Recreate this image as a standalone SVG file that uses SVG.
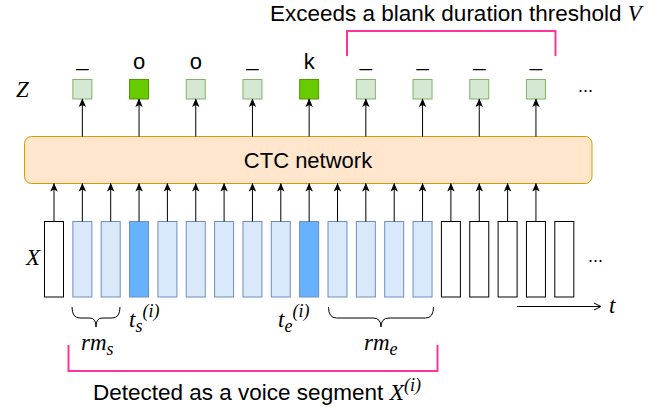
<svg xmlns="http://www.w3.org/2000/svg" width="665" height="410" viewBox="0 0 665 410">
<style>
.t{font-family:"Liberation Sans",Arial,sans-serif;fill:#000}
.m{font-family:"Liberation Serif","Times New Roman",serif;font-style:italic;fill:#000}
.zl{fill:#d5e8d4;stroke:#82b366;stroke-width:1}
.zd{fill:#66cc00;stroke:#4d9900;stroke-width:1}
.xl{fill:#dae8fc;stroke:#6c8ebf;stroke-width:1}
.xd{fill:#66b2ff;stroke:#6c8ebf;stroke-width:1}
.xw{fill:#fff;stroke:#000;stroke-width:1}
.ar{stroke:#000;stroke-width:1;fill:none;marker-end:url(#ah)}
.pk{stroke:#ff3399;stroke-width:2;fill:none}
.br{stroke:#000;stroke-width:1;fill:none}
</style>
<defs>
<marker id="ah" markerUnits="userSpaceOnUse" markerWidth="10" markerHeight="10" viewBox="0 0 10 10" refX="9" refY="5" orient="auto">
<path d="M1,1.3 L9.5,5 L1,8.7 L3,5 Z" fill="#000"/>
</marker>
<marker id="oh" markerUnits="userSpaceOnUse" markerWidth="10" markerHeight="10" viewBox="0 0 10 10" refX="9" refY="5" orient="auto">
<path d="M2,1.5 L9,5 L2,8.5" fill="none" stroke="#000" stroke-width="1"/>
</marker>
</defs>
<g id="title"><text class="t" x="270" y="21" font-size="22.5">Exceeds a blank duration threshold <tspan class="m" font-family="Liberation Serif, serif" font-style="italic">V</tspan></text></g>
<g id="labelZ"><text class="m" x="16" y="97" font-size="23">Z</text></g>
<g id="labelX"><text class="m" x="26" y="265" font-size="23">X</text></g>
<g id="ctc"><rect x="24.5" y="136.5" width="567.5" height="47" rx="7" fill="#ffe6cc" stroke="#d79b00"/><text class="t" x="308" y="167.5" font-size="22" text-anchor="middle">CTC network</text></g>
<g id="Z">
<g id="z1"><rect class="zl" x="72.85" y="79.5" width="19" height="19.5"/><text class="t" x="82.35" y="66" font-size="22" text-anchor="middle">_</text></g>
<g id="z3"><rect class="zd" x="129.55" y="79.5" width="19" height="19.5"/><text class="t" x="139.05" y="69" font-size="22" text-anchor="middle">o</text></g>
<g id="z5"><rect class="zl" x="186.25" y="79.5" width="19" height="19.5"/><text class="t" x="195.75" y="69" font-size="22" text-anchor="middle">o</text></g>
<g id="z7"><rect class="zl" x="242.95" y="79.5" width="19" height="19.5"/><text class="t" x="252.45" y="66" font-size="22" text-anchor="middle">_</text></g>
<g id="z9"><rect class="zd" x="299.65" y="79.5" width="19" height="19.5"/><text class="t" x="309.15" y="69" font-size="22" text-anchor="middle">k</text></g>
<g id="z11"><rect class="zl" x="356.35" y="79.5" width="19" height="19.5"/><text class="t" x="365.85" y="66" font-size="22" text-anchor="middle">_</text></g>
<g id="z13"><rect class="zl" x="413.05" y="79.5" width="19" height="19.5"/><text class="t" x="422.55" y="66" font-size="22" text-anchor="middle">_</text></g>
<g id="z15"><rect class="zl" x="469.75" y="79.5" width="19" height="19.5"/><text class="t" x="479.25" y="66" font-size="22" text-anchor="middle">_</text></g>
<g id="z17"><rect class="zl" x="526.45" y="79.5" width="19" height="19.5"/><text class="t" x="535.95" y="66" font-size="22" text-anchor="middle">_</text></g>
<g id="zdots"><text class="t" x="578" y="92" font-size="18">...</text></g>
</g>
<g id="X">
<rect id="x0" class="xw" x="44.5" y="221.5" width="19" height="75.5"/>
<rect id="x1" class="xl" x="72.85" y="221.5" width="19" height="75.5"/>
<rect id="x2" class="xl" x="101.2" y="221.5" width="19" height="75.5"/>
<rect id="x3" class="xd" x="129.55" y="221.5" width="19" height="75.5"/>
<rect id="x4" class="xl" x="157.9" y="221.5" width="19" height="75.5"/>
<rect id="x5" class="xl" x="186.25" y="221.5" width="19" height="75.5"/>
<rect id="x6" class="xl" x="214.6" y="221.5" width="19" height="75.5"/>
<rect id="x7" class="xl" x="242.95" y="221.5" width="19" height="75.5"/>
<rect id="x8" class="xl" x="271.3" y="221.5" width="19" height="75.5"/>
<rect id="x9" class="xd" x="299.65" y="221.5" width="19" height="75.5"/>
<rect id="x10" class="xl" x="328" y="221.5" width="19" height="75.5"/>
<rect id="x11" class="xl" x="356.35" y="221.5" width="19" height="75.5"/>
<rect id="x12" class="xl" x="384.7" y="221.5" width="19" height="75.5"/>
<rect id="x13" class="xl" x="413.05" y="221.5" width="19" height="75.5"/>
<rect id="x14" class="xw" x="441.4" y="221.5" width="19" height="75.5"/>
<rect id="x15" class="xw" x="469.75" y="221.5" width="19" height="75.5"/>
<rect id="x16" class="xw" x="498.1" y="221.5" width="19" height="75.5"/>
<rect id="x17" class="xw" x="526.45" y="221.5" width="19" height="75.5"/>
<rect id="x18" class="xw" x="554.8" y="221.5" width="19" height="75.5"/>
<text id="xdots" class="t" x="588" y="262" font-size="18">...</text>
</g>
<g id="connectors">
<path class="ar" d="M54,221.5V183.5"/>
<path class="ar" d="M82.35,221.5V183.5"/>
<path class="ar" d="M110.7,221.5V183.5"/>
<path class="ar" d="M139.05,221.5V183.5"/>
<path class="ar" d="M167.4,221.5V183.5"/>
<path class="ar" d="M195.75,221.5V183.5"/>
<path class="ar" d="M224.1,221.5V183.5"/>
<path class="ar" d="M252.45,221.5V183.5"/>
<path class="ar" d="M280.8,221.5V183.5"/>
<path class="ar" d="M309.15,221.5V183.5"/>
<path class="ar" d="M337.5,221.5V183.5"/>
<path class="ar" d="M365.85,221.5V183.5"/>
<path class="ar" d="M394.2,221.5V183.5"/>
<path class="ar" d="M422.55,221.5V183.5"/>
<path class="ar" d="M450.9,221.5V183.5"/>
<path class="ar" d="M479.25,221.5V183.5"/>
<path class="ar" d="M507.6,221.5V183.5"/>
<path class="ar" d="M535.95,221.5V183.5"/>
<path class="ar" d="M82.35,136.5V99"/>
<path class="ar" d="M139.05,136.5V99"/>
<path class="ar" d="M195.75,136.5V99"/>
<path class="ar" d="M252.45,136.5V99"/>
<path class="ar" d="M309.15,136.5V99"/>
<path class="ar" d="M365.85,136.5V99"/>
<path class="ar" d="M422.55,136.5V99"/>
<path class="ar" d="M479.25,136.5V99"/>
<path class="ar" d="M535.95,136.5V99"/>
<path id="taxis" d="M517,306.5H601" stroke="#000" stroke-width="1" fill="none" marker-end="url(#oh)"/>
</g>
<g id="timelabel"><text class="m" x="609" y="313" font-size="23">t</text></g>
<g id="topbracket"><path class="pk" d="M347,56V31H555.5V56"/></g>
<g id="bottombracket"><path class="pk" d="M68.5,345V371H437.5V345"/></g>
<g id="braceS"><path class="br" d="M72,307Q72,318 80,318H90Q96,318 96,327Q96,318 102,318H112Q120,318 120,307"/></g>
<g id="braceE"><path class="br" d="M328.5,307Q328.5,318 336.5,318H373Q381,318 381,327Q381,318 389,318H425.5Q433.5,318 433.5,307"/></g>
<g id="ts"><text class="m" x="129" y="327" font-size="23">t<tspan font-size="18" dy="5">s</tspan><tspan font-size="18" dy="-15">(i)</tspan></text></g>
<g id="te"><text class="m" x="278" y="327" font-size="23">t<tspan font-size="18" dy="5">e</tspan><tspan font-size="18" dy="-15">(i)</tspan></text></g>
<g id="rms"><text class="m" x="81" y="350" font-size="23">rm<tspan font-size="18" dy="5">s</tspan></text></g>
<g id="rme"><text class="m" x="364" y="350" font-size="23">rm<tspan font-size="18" dy="5">e</tspan></text></g>
<g id="caption"><text class="t" x="93" y="400" font-size="22.5">Detected as a voice segment <tspan font-family="Liberation Serif, serif" font-style="italic" font-size="24">X<tspan font-size="18" dy="-9">(i)</tspan></tspan></text></g>
</svg>
